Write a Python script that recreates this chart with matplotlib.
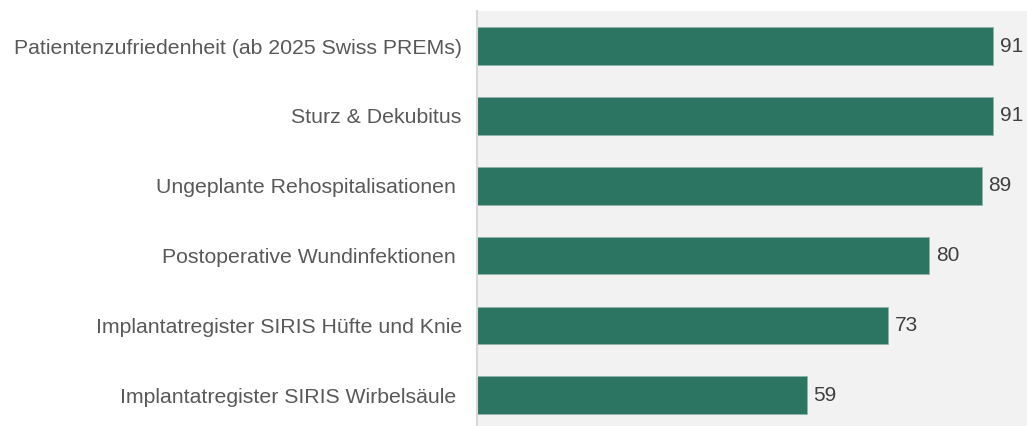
import matplotlib
matplotlib.use("Agg")
import matplotlib.pyplot as plt

categories = [
    "Patientenzufriedenheit (ab 2025 Swiss PREMs)",
    "Sturz & Dekubitus",
    "Ungeplante Rehospitalisationen ",
    "Postoperative Wundinfektionen ",
    "Implantatregister SIRIS Hüfte und Knie",
    "Implantatregister SIRIS Wirbelsäule ",
]
values = [91, 91, 89, 80, 73, 59]

plt.rcParams["font.family"] = ["Liberation Sans", "DejaVu Sans"]

fig = plt.figure(figsize=(10.27, 4.26), dpi=100)
ax = fig.add_axes([0.4645, 0.0, 0.5355, 0.974])
ax.set_facecolor("#F2F2F2")

y = range(len(categories))
ax.barh(y, values, height=0.54, color="#2D7563", edgecolor="#8FB3A8", linewidth=0.6)
for yi, v in zip(y, values):
    ax.annotate(str(v), (v, yi), xytext=(5, 0), textcoords="offset points",
                va="center", ha="left", fontsize=15, color="#404040")

ax.set_yticks(list(y))
ax.set_yticklabels(categories, fontsize=15.3, color="#595959")
ax.tick_params(axis="y", length=0, pad=11)
ax.set_xticks([])
ax.set_xlim(2.45, 96.8)
ax.set_ylim(5.44, -0.5)

for side in ["top", "right", "bottom"]:
    ax.spines[side].set_visible(False)
ax.spines["left"].set_color("#D9D9D9")
ax.spines["left"].set_linewidth(1.5)

plt.savefig("out.png", dpi=100)
plt.close()
